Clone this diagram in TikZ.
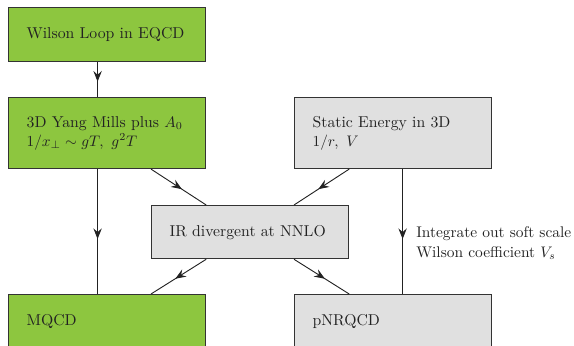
\documentclass[tikz,border=0pt]{standalone}
\usepackage{tikz}
\usetikzlibrary{arrows.meta,decorations.markings}
\definecolor{EQGreen}{HTML}{8DC63F}
\definecolor{EQGray}{HTML}{E0E0E0}
\definecolor{EQEdge}{HTML}{333333}
\definecolor{EQText}{HTML}{222222}
\tikzset{
  box/.style={draw=EQEdge,line width=.8pt,rectangle,text width=3.7cm,inner xsep=11.8pt,align=left,anchor=north west,
    text=EQText,font=\fontsize{10.3pt}{12.4pt}\selectfont},
  greenbox/.style={box,fill=EQGreen},
  graybox/.style={box,fill=EQGray},
  flow/.style={line width=.6pt,draw=EQText,postaction={decorate},
    decoration={markings,mark=at position .56 with {\arrow{Stealth[length=7pt,width=5.5pt,inset=2.5pt]}}}},
}

\begin{document}
\begin{tikzpicture}[x=0.023cm,y=-0.023cm]
\clip (0,0) rectangle (574,346);
% boxes
\node[greenbox,minimum height=1.24cm] (wl) at (8,7) {Wilson Loop in EQCD};
\node[greenbox,minimum height=1.63cm] (ym) at (8,97) {3D Yang Mills plus $A_0$\\ $1/x_\perp\sim gT,\ g^2T$};
\node[graybox,minimum height=1.63cm] (se) at (294,97) {Static Energy in 3D\\ $1/r,\ V$};
\node[graybox,minimum height=1.22cm] (ir) at (151,205) {IR divergent at NNLO};
\node[greenbox,minimum height=1.24cm] (mq) at (8,294) {MQCD};
\node[graybox,minimum height=1.24cm] (pn) at (294,294) {pNRQCD};
\node[anchor=west,align=left,text=EQText,font=\fontsize{10.1pt}{13pt}\selectfont,inner xsep=0pt] (ws) at (416,243) {Integrate out soft scale\\ Wilson coefficient $V_s$};
% connectors
\draw[flow] ([xshift=2.06cm]wl.south west) -- ([xshift=2.06cm]ym.north west);
\draw[flow] ([xshift=2.06cm]ym.south west) -- ([xshift=2.06cm]mq.north west);
\draw[flow] ([xshift=-2.06cm]se.south east) -- ([xshift=-2.06cm]pn.north east);
\draw[flow] (ir.west |- ym.south) -- (ym.east |- ir.north);
\draw[flow] (ir.east |- se.south) -- (se.west |- ir.north);
\draw[flow] (ym.east |- ir.south) -- (ir.west |- mq.north);
\draw[flow] (se.west |- ir.south) -- (ir.east |- pn.north);
\end{tikzpicture}
\end{document}
